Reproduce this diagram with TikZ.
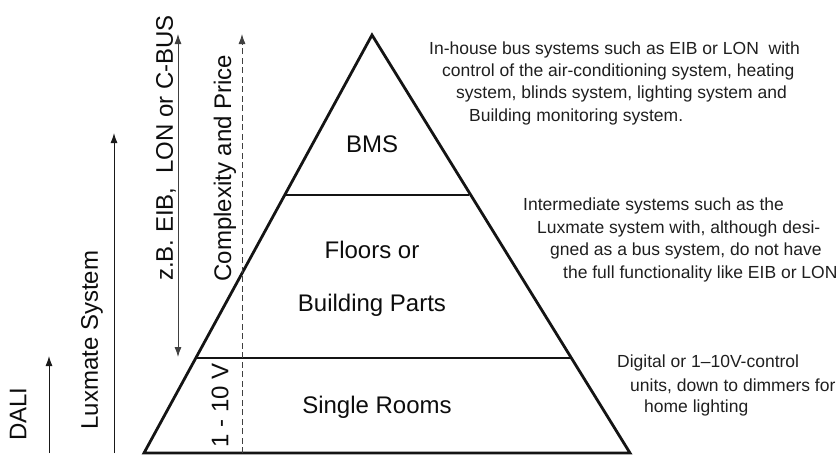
\documentclass[tikz,border=0pt]{standalone}
\usepackage{fontspec}
\setmainfont{Liberation Sans}
\usetikzlibrary{arrows.meta}
\begin{document}
\begin{tikzpicture}[x=1pt,y=-1pt,
  pyr/.style={line width=2.8pt,draw=black!92,line join=miter},
  big/.style={font=\fontsize{24}{28}\selectfont,text=black!95,inner sep=0pt},
  vlab/.style={font=\fontsize{24}{28}\selectfont,text=black!95,inner sep=0pt,rotate=90},
  note/.style={font=\fontsize{17.5}{22}\selectfont,text=black!88,inner sep=0pt,anchor=west},
  arr/.style={line width=1pt,draw=black!90,-{Latex[length=10pt,width=7pt]}},
  darr/.style={line width=0.9pt,draw=black!75,{Latex[length=10pt,width=7pt]}-{Latex[length=10pt,width=7pt]}},
  dasharr/.style={line width=0.9pt,draw=black!75,dash pattern=on 6pt off 3.5pt,-{Latex[length=10pt,width=7pt]}}
]
\useasboundingbox (0,0) rectangle (840,455);
% pyramid
\coordinate (apex) at (372,35);
\coordinate (bl) at (144,453);
\coordinate (br) at (630,453);
\coordinate (l1) at (286,195);
\coordinate (r1) at (469,195);
\coordinate (l2) at (197,358);
\coordinate (r2) at (570,358);
\draw[pyr] (apex) -- (bl) -- (br) -- cycle;
\draw[pyr] (l1) -- (r1);
\draw[pyr] (l2) -- (r2);
% labels inside
\node[big] (bms) at (372,144) {BMS};
\node[big] (fl) at (372,250) {Floors or};
\node[big] (bp) at (372,305) {Building Parts};
\node[big] (sr) at (377,407) {Single Rooms};
% arrows
\coordinate (dalib) at (49,453);
\coordinate (dalit) at (49,356);
\draw[arr] (dalib) -- (dalit);
\coordinate (luxb) at (114,453);
\coordinate (luxt) at (114,133);
\draw[arr] (luxb) -- (luxt);
\coordinate (zbt) at (178,34);
\coordinate (zbb) at (178,357);
\draw[darr] (zbb) -- (zbt);
\coordinate (cpb) at (242,453);
\coordinate (cpt) at (242,34);
\draw[dasharr] (cpb) -- (cpt);
% vertical labels
\node[vlab] (dali) at (18,414) {DALI};
\node[vlab] (lux) at (92,340) {Luxmate System};
\node[vlab] (zb) at (166,148) {z.B. EIB,\ \ LON or C-BUS};
\node[vlab] (cp) at (225,168) {Complexity and Price};
\node[vlab] (v10) at (220,405) {1 - 10 V};
% notes
\node[note] (a1) at (429,50) {In-house bus systems such as EIB or LON\ \ with};
\node[note] (a2) at (442,72) {control of the air-conditioning system, heating};
\node[note] (a3) at (456,94) {system, blinds system, lighting system and};
\node[note] (a4) at (469,117) {Building monitoring system.};
\node[note] (b1) at (523,206) {Intermediate systems such as the};
\node[note] (b2) at (537,229) {Luxmate system with, although desi-};
\node[note] (b3) at (550,251) {gned as a bus system, do not have};
\node[note] (b4) at (563,274) {the full functionality like EIB or LON};
\node[note] (c1) at (617,363) {Digital or 1–10V-control};
\node[note] (c2) at (630,386) {units, down to dimmers for};
\node[note] (c3) at (644,408) {home lighting};
\end{tikzpicture}
\end{document}
